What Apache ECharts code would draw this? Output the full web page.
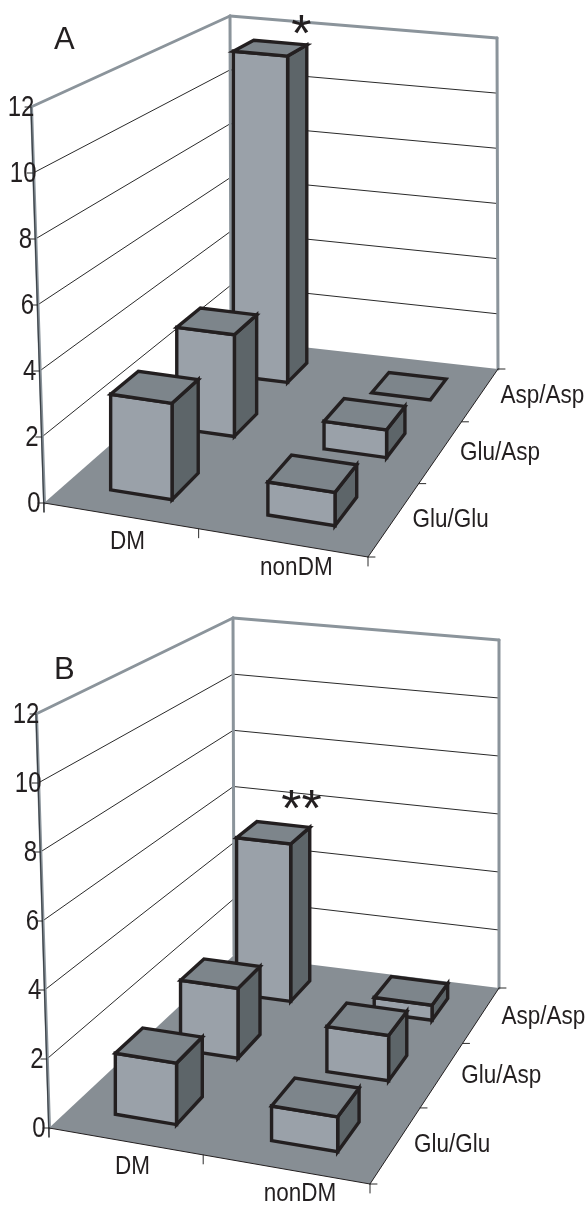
<!DOCTYPE html>
<html><head><meta charset="utf-8">
<style>html,body{margin:0;padding:0;background:#fff}#c{width:588px;height:1205px}</style>
<script src="https://cdn.jsdelivr.net/npm/echarts@6/dist/echarts.min.js"></script>
</head><body><div id="c"></div>
<script>
const categories = ['DM', 'nonDM'];
const groups = ['Glu/Glu', 'Glu/Asp', 'Asp/Asp'];
const yTicks = [0, 2, 4, 6, 8, 10, 12];
const valuesA_DM = [2.95, 3.35, 11.5];
const valuesA_nonDM = [1.0, 0.9, 0];
const valuesB_DM = [1.8, 2.2, 5.3];
const valuesB_nonDM = [1.0, 1.4, 0.5];
const marksA = ['', '', '*'];
const marksB = ['', '', '**'];

const FONT = '"Liberation Sans", Arial, sans-serif';
const C = {wall:'#8b949b', floor:'#878e94', front:'#9aa1a9', top:'#7d858b', side:'#5d6569', edge:'#231f20', grid:'#2a2a2a', text:'#231f20'};
const BW = 0.405, BD = 0.40, USHIFT = [0.0, 0.005];

function quad(p) {
  const [x0,y0]=p[0],[x1,y1]=p[1],[x2,y2]=p[2],[x3,y3]=p[3];
  const dx1=x1-x2,dx2=x3-x2,dx3=x0-x1+x2-x3,dy1=y1-y2,dy2=y3-y2,dy3=y0-y1+y2-y3;
  const den=dx1*dy2-dx2*dy1;
  const g=(dx3*dy2-dx2*dy3)/den,h=(dx1*dy3-dx3*dy1)/den;
  const a=x1-x0+g*x1,b=x3-x0+h*x3,d=y1-y0+g*y1,e=y3-y0+h*y3;
  return (u,w)=>{const q=g*u+h*w+1;return [(a*u+b*w+x0)/q,(d*u+e*w+y0)/q];};
}

const panels = [
 {title:'A', titlePos:[49,20], dm:valuesA_DM, non:valuesA_nonDM, marks:marksA, markOff:[31,-22],
  floor:[[44,503],[368,557],[498,369],[231,339]], top:[[31,107],[355,145],[497,38],[230,16]]},
 {title:'B', titlePos:[49,650], dm:valuesB_DM, non:valuesB_nonDM, marks:marksB, markOff:[28,-32],
  floor:[[49,1128],[370,1184],[499,988],[234,955]], top:[[36,714],[357,754],[499,640],[233,618]]}
];
const GRID_W = 300, GRID_H = 300;

function makeProj(pn){
  const F=quad(pn.floor), T=quad(pn.top);
  return (u,w,t)=>{const a=F(u,w),b=T(u,w);return [a[0]+(b[0]-a[0])*t,a[1]+(b[1]-a[1])*t];};
}
function line(a,b,color,width){return {type:'line',silent:true,shape:{x1:a[0],y1:a[1],x2:b[0],y2:b[1]},style:{stroke:color,lineWidth:width,lineCap:'round'}};}
function poly(pts,fill,stroke,lw){return {type:'polygon',silent:true,shape:{points:pts},style:{fill:fill,stroke:stroke||null,lineWidth:lw||0,lineJoin:'miter'}};}
function text(s,x,y,size,align,sy){return {type:'text',silent:true,x:x,y:y,scaleY:sy||1,style:{text:s,fill:C.text,font:size+'px '+FONT,textAlign:align,textVerticalAlign:'middle'}};}

const grids=[],xAxes=[],yAxes=[],series=[],titles=[];
panels.forEach((pn,pi)=>{
  const P=makeProj(pn);
  // bars stand upright: their x stays that of the floor point
  const PB=(u,w,t)=>{const a=P(u,w,t);return [P(u,w,0)[0],a[1]];};
  const gl=10, gt=pi?640:20;
  grids.push({left:gl,top:gt,width:GRID_W,height:GRID_H});
  xAxes.push({type:'category',gridIndex:pi,data:categories,show:false});
  yAxes.push({type:'value',gridIndex:pi,min:0,max:12,interval:2,show:false});
  titles.push({text:pn.title,left:pn.titlePos[0],top:pn.titlePos[1],textStyle:{fontFamily:FONT,fontWeight:'normal',fontSize:31,color:C.text}});
  const frac=(api,v)=>(gt+GRID_H-api.coord([0,v])[1])/GRID_H;
  const uOf=(api,i)=>(api.coord([i,0])[0]-gl)/GRID_W;
  series.push({type:'custom',xAxisIndex:pi,yAxisIndex:pi,animation:false,silent:true,clip:false,z:1,data:[[0,0]],
    renderItem(params,api){
      const kids=[];
      yTicks.forEach(v=>{
        const t=frac(api,v);
        if(v>0&&v<12){
          kids.push(line(P(0,0,t),P(0,1,t),C.grid,1));
          kids.push(line(P(0,1,t),P(1,1,t),C.grid,1));
        }
      });
      kids.push(poly([P(0,0,0),P(1,0,0),P(1,1,0),P(0,1,0)],C.floor));
      kids.push(line(P(0,1,0),P(0,1,1),C.wall,3));
      kids.push(line(P(1,1,0),P(1,1,1),C.wall,3));
      kids.push(line(P(0,0,1),P(0,1,1),C.wall,3));
      kids.push(line(P(0,1,1),P(1,1,1),C.wall,3));
      const a0=P(0,0,0),a1=P(0,0,1);
      kids.push(line([a0[0]+.5,a0[1]],[a1[0]+.5,a1[1]],C.wall,3));
      kids.push(line([a0[0],a0[1]+9],a1,'#3a4046',1.2));
      kids.push(line(P(0,0,0),P(1,0,0),C.edge,1));
      kids.push(line(P(1,0,0),P(1,1,0),C.edge,1));
      yTicks.forEach(v=>{
        const p=P(0,0,frac(api,v));
        kids.push(line([p[0]-6,p[1]],p,C.grid,1));
        kids.push(text(String(v),p[0]-10,p[1]+1,24,'center',1.2));
      });
      [0,.5,1].forEach(u=>{const p=P(u,0,0);kids.push(line(p,[p[0],p[1]+9],C.grid,1));});
      [0,1/3,2/3,1].forEach(w=>{const p=P(1,w,0);kids.push(line(p,[p[0]+7,p[1]],C.grid,1));});
      categories.forEach((c,i)=>{
        const p=P(uOf(api,i),0,0);
        kids.push(text(c,p[0]+[8,15][i],p[1]+[26,25][i],22.5,'center',1.15));
      });
      groups.forEach((g,i)=>{
        const p=P(1,(i+.5)/3,0);
        kids.push(text(g,p[0]+[18,19,20][i],p[1]+[1,2,2][i],22.5,'left',1.12));
      });
      return {type:'group',children:kids};
    }});
  const rows=[];
  for(let g=groups.length-1;g>=0;g--){
    rows.push([0,pn.dm[g],g,pn.marks[g]]);
    rows.push([1,pn.non[g],g,'']);
  }
  series.push({type:'custom',xAxisIndex:pi,yAxisIndex:pi,animation:false,silent:true,clip:false,z:2,data:rows,
    encode:{x:0,y:1},
    renderItem(params,api){
      const cat=api.value(0),v=api.value(1),g=api.value(2);
      const cu=uOf(api,cat)+USHIFT[cat], hw=api.size([1,0])[0]/GRID_W*BW/2;
      const cw=(g+.5)/groups.length, hd=BD/groups.length/2;
      const t=frac(api,v);
      const u0=cu-hw,u1=cu+hw,w0=cw-hd,w1=cw+hd;
      const kids=[];
      if(v>0){
        kids.push(poly([PB(u1,w0,0),PB(u1,w1,0),PB(u1,w1,t),PB(u1,w0,t)],C.side,C.edge,3.4));
        kids.push(poly([PB(u0,w0,0),PB(u1,w0,0),PB(u1,w0,t),PB(u0,w0,t)],C.front,C.edge,3.4));
      }
      kids.push(poly([PB(u0,w0,t),PB(u1,w0,t),PB(u1,w1,t),PB(u0,w1,t)],C.top,C.edge,3.4));
      const m=rows[params.dataIndex][3];
      if(m){
        const p=PB(cu,cw,t);
        kids.push({type:'text',silent:true,x:p[0]+pn.markOff[0],y:p[1]+pn.markOff[1]+11,style:{text:m,fill:C.text,font:'52px '+FONT,textAlign:'center',textVerticalAlign:'middle'}});
      }
      return {type:'group',children:kids};
    }});
});
const chart=echarts.init(document.getElementById('c'),null,{renderer:'canvas'});
chart.setOption({animation:false,backgroundColor:'#fff',title:titles,grid:grids,xAxis:xAxes,yAxis:yAxes,series:series,tooltip:{show:false}});
</script></body></html>
